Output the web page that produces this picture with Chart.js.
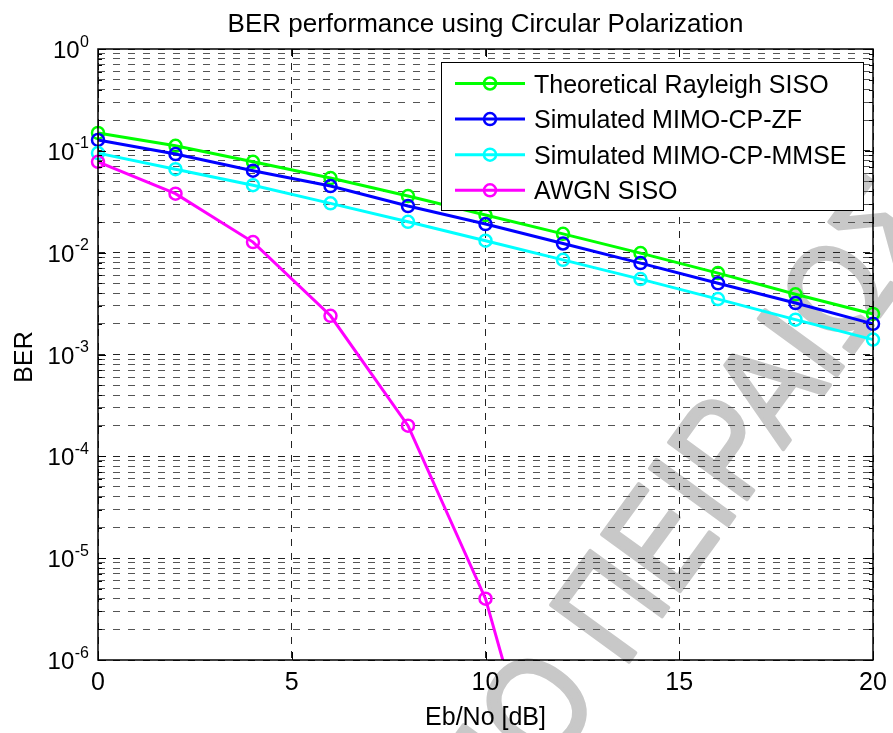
<!DOCTYPE html>
<html>
<head>
<meta charset="utf-8">
<script src="https://cdn.jsdelivr.net/npm/chart.js@4.4.1/dist/chart.umd.min.js"></script>
<style>
  html, body { margin: 0; padding: 0; background: #fff; }
  #wrap { width: 893px; height: 733px; }
</style>
</head>
<body>
<div id="wrap"><canvas id="berChart" width="893" height="733"></canvas></div>
<script>
// values
const ebNo = [0, 2, 4, 6, 8, 10, 12, 14, 16, 18, 20];
const rayleighSiso = [0.150, 0.112, 0.078, 0.054, 0.036, 0.0234, 0.0153, 0.0099, 0.0063, 0.0039, 0.0025];
const mimoZf = [0.128, 0.093, 0.0638, 0.0451, 0.0287, 0.0191, 0.0123, 0.0079, 0.0050, 0.0032, 0.0020];
const mimoMmse = [0.095, 0.066, 0.046, 0.0305, 0.0201, 0.0131, 0.0085, 0.0055, 0.0035, 0.0022, 0.0014];
const awgnSiso = [0.078, 0.038, 0.0127, 0.0024, 0.0002, 4.0e-6, 8e-9, null, null, null, null];

const seriesLabels = ['Theoretical Rayleigh SISO', 'Simulated MIMO-CP-ZF', 'Simulated MIMO-CP-MMSE', 'AWGN SISO'];
const seriesValues = [rayleighSiso, mimoZf, mimoMmse, awgnSiso];
const seriesColors = ['#00ff00', '#0000ff', '#00ffff', '#ff00ff'];

const xTickValues = [0, 5, 10, 15, 20];
const yDecades = [0, -1, -2, -3, -4, -5, -6];

const chartTitle = 'BER performance using Circular Polarization';
const xTitle = 'Eb/No [dB]';
const yTitle = 'BER';
const watermarkText = ['ΠΑΝΕΠΙΣΤΗΜΙΟ ', 'ΠΕΙΡΑΙΩΣ'];

const FONT = '"Liberation Sans", Arial, Helvetica, sans-serif';

// minor + major log grid values, 1..9 x 10^e
const yGridValues = [];
for (let e = -6; e < 0; e++) {
  for (let m = 1; m <= 9; m++) yGridValues.push(Number((m * Math.pow(10, e)).toPrecision(3)));
}
yGridValues.push(1);

const isDecade = (v) => Math.abs(Math.log10(v) - Math.round(Math.log10(v))) < 1e-9;

const datasets = seriesLabels.map((label, k) => ({
  label: label,
  data: ebNo.map((x, i) => ({ x: x, y: seriesValues[k][i] })).filter(p => p.y !== null),
  borderColor: seriesColors[k],
  backgroundColor: 'rgba(0,0,0,0)',
  pointBorderColor: seriesColors[k],
  pointBackgroundColor: 'rgba(0,0,0,0)',
  borderWidth: 3,
  pointRadius: 6,
  pointBorderWidth: 2.5,
  tension: 0,
  order: seriesLabels.length - k,
  clip: { left: 12, right: 12, top: 12, bottom: 0 }
}));

const matlabLook = {
  id: 'matlabLook',
  beforeDraw(chart) {
    const ctx = chart.ctx;
    ctx.save();
    ctx.fillStyle = '#ffffff';
    ctx.fillRect(0, 0, chart.width, chart.height);

    // grey watermark under everything (condensed, rotated)
    const size = 140;
    ctx.translate(608, 605);
    ctx.rotate(-54 * Math.PI / 180);
    ctx.scale(0.86, 1);
    ctx.font = size + 'px ' + FONT;
    ctx.fillStyle = 'rgb(200,200,200)';
    ctx.strokeStyle = 'rgb(200,200,200)';
    ctx.lineWidth = 4;
    ctx.lineJoin = 'round';
    ctx.textBaseline = 'alphabetic';
    const wPi = ctx.measureText('Π').width;
    const capH = 0.716 * size;
    ctx.textAlign = 'left';
    ctx.fillText(watermarkText[1], -wPi / 2, capH / 2);
    ctx.strokeText(watermarkText[1], -wPi / 2, capH / 2);
    ctx.textAlign = 'right';
    ctx.fillText(watermarkText[0], -wPi / 2, capH / 2);
    ctx.strokeText(watermarkText[0], -wPi / 2, capH / 2);
    ctx.restore();
  },
  afterDraw(chart) {
    const ctx = chart.ctx;
    const area = chart.chartArea;
    const xs = chart.scales.x;
    const ys = chart.scales.y;
    ctx.save();

    // inner ticks
    ctx.strokeStyle = '#000';
    ctx.lineWidth = 1;
    ctx.beginPath();
    yGridValues.forEach(v => {
      const y = Math.round(ys.getPixelForValue(v)) + 0.5;
      const len = isDecade(v) ? 8 : 4;
      ctx.moveTo(area.left, y); ctx.lineTo(area.left + len, y);
      ctx.moveTo(area.right, y); ctx.lineTo(area.right - len, y);
    });
    xTickValues.forEach(v => {
      const x = Math.round(xs.getPixelForValue(v)) + 0.5;
      ctx.moveTo(x, area.bottom); ctx.lineTo(x, area.bottom - 8);
      ctx.moveTo(x, area.top); ctx.lineTo(x, area.top + 8);
    });
    ctx.stroke();

    // axes box
    ctx.lineWidth = 1.5;
    ctx.strokeRect(area.left, area.top, area.right - area.left, area.bottom - area.top);

    ctx.fillStyle = '#000';
    ctx.textBaseline = 'alphabetic';

    // y tick labels 10^e
    yDecades.forEach(e => {
      const y = ys.getPixelForValue(Math.pow(10, e));
      const exp = String(e);
      ctx.font = '16px ' + FONT;
      ctx.textAlign = 'right';
      const wExp = ctx.measureText(exp).width;
      ctx.fillText(exp, 89, y - 2.5);
      ctx.font = '24px ' + FONT;
      ctx.fillText('10', 89 - wExp - 0.5, y + 9);
    });

    // x tick labels
    ctx.font = '25px ' + FONT;
    ctx.textAlign = 'center';
    xTickValues.forEach(v => {
      ctx.fillText(String(v), xs.getPixelForValue(v), 690);
    });

    // titles
    const cx = (area.left + area.right) / 2;
    ctx.font = '26px ' + FONT;
    ctx.fillText(chartTitle, cx, 31.5);
    ctx.font = '25px ' + FONT;
    ctx.fillText(xTitle, cx, 725);
    ctx.save();
    ctx.translate(31.5, 357);
    ctx.rotate(-Math.PI / 2);
    ctx.fillText(yTitle, 0, 0);
    ctx.restore();

    // legend box
    const lx = 441, ly = 62, lw = 422, lh = 148;
    ctx.fillStyle = '#fff';
    ctx.fillRect(lx, ly, lw, lh);
    ctx.strokeStyle = '#000';
    ctx.lineWidth = 1;
    ctx.strokeRect(lx + 0.5, ly + 0.5, lw, lh);
    ctx.font = '25px ' + FONT;
    ctx.textAlign = 'left';
    seriesLabels.forEach((label, k) => {
      const ry = 83.5 + k * 35.6;
      ctx.strokeStyle = seriesColors[k];
      ctx.lineWidth = 3;
      ctx.beginPath();
      ctx.moveTo(455, ry); ctx.lineTo(525, ry);
      ctx.stroke();
      ctx.lineWidth = 2.5;
      ctx.beginPath();
      ctx.arc(490, ry, 6, 0, Math.PI * 2);
      ctx.stroke();
      ctx.fillStyle = '#000';
      ctx.fillText(label, 534, ry + 9);
    });

    ctx.restore();
  }
};

const gridColor = (c) => (c.tick && isDecade(c.tick.value) ? '#222' : '#555');

new Chart(document.getElementById('berChart'), {
  type: 'line',
  data: { datasets: datasets },
  options: {
    responsive: false,
    animation: false,
    devicePixelRatio: 1,
    layout: { padding: { left: 98, right: 20, top: 49, bottom: 73 } },
    plugins: {
      legend: { display: false },
      title: { display: false },
      tooltip: { enabled: false }
    },
    scales: {
      x: {
        type: 'linear',
        min: 0,
        max: 20,
        afterFit: (s) => { s.height = 0; },
        afterBuildTicks: (s) => { s.ticks = xTickValues.map(v => ({ value: v })); },
        ticks: { display: false },
        grid: { color: '#222', lineWidth: 1, drawTicks: false },
        border: { display: false, dash: [7, 7] }
      },
      y: {
        type: 'logarithmic',
        min: 1e-6,
        max: 1,
        afterFit: (s) => { s.width = 0; },
        afterBuildTicks: (s) => { s.ticks = yGridValues.map(v => ({ value: v })); },
        ticks: { display: false },
        grid: { color: gridColor, lineWidth: 1, drawTicks: false },
        border: { display: false, dash: [7, 8] }
      }
    }
  },
  plugins: [matlabLook]
});
</script>
</body>
</html>
